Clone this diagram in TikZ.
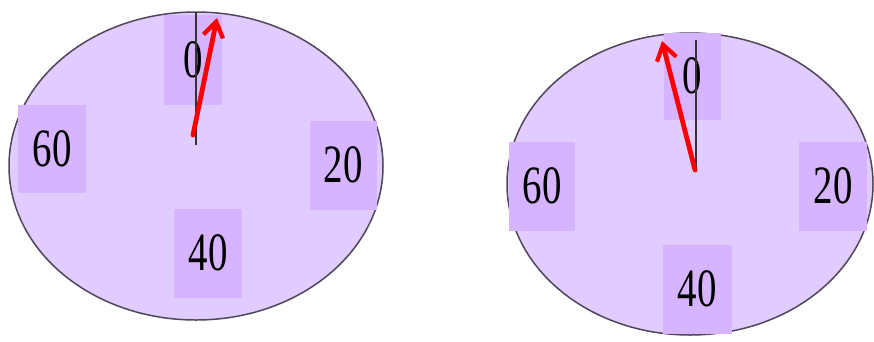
\documentclass[tikz,border=0pt]{standalone}
\usepackage{fontspec}
\setmainfont{Liberation Serif}
\usetikzlibrary{shapes.geometric,arrows.meta}
\definecolor{dialfill}{RGB}{224,204,255}
\definecolor{boxfill}{RGB}{214,180,255}
\definecolor{rimcol}{RGB}{80,70,90}
\definecolor{handred}{RGB}{250,0,0}
\tikzset{
  dial/.style={draw=rimcol, line width=1.5pt, fill=dialfill, ellipse, inner sep=0pt},
  numbox/.style={fill=boxfill, inner sep=0pt, font=\fontsize{54}{60}\selectfont},
  refline/.style={draw=black!80, line width=1.2pt},
  hand/.style={draw=handred, line width=4.8pt, -{Straight Barb[length=15pt,width=20pt,line width=4.2pt]}, line cap=round}
}
\newcommand{\digits}[1]{\scalebox{0.72}[1]{#1}}
\begin{document}
\begin{tikzpicture}[x=1pt,y=-1pt]
\useasboundingbox (0,0) rectangle (874,341);
% left dial
\node[dial, minimum width=374pt, minimum height=308pt] (Ld) at (196,166) {};
\node[numbox, minimum width=58pt, minimum height=90pt] (L0) at (193,60) {\digits{0}};
\node[numbox, minimum width=68pt, minimum height=88pt] (L60) at (52,149) {\digits{60}};
\node[numbox, minimum width=67pt, minimum height=89pt] (L20) at (343,165) {\digits{20}};
\node[numbox, minimum width=68pt, minimum height=89pt] (L40) at (208,253) {\digits{40}};
\coordinate (Lc) at (196,145);
\coordinate (Ltop) at (196,12);
\coordinate (Ls) at (193,135);
\coordinate (Le) at (217,18);
\draw[refline] (Lc) -- (Ltop);
\draw[hand] (Ls) -- (Le);
% right dial
\node[dial, minimum width=366pt, minimum height=302pt] (Rd) at (690,184) {};
\node[numbox, minimum width=57pt, minimum height=87pt] (R0) at (692,76) {\digits{0}};
\node[numbox, minimum width=66pt, minimum height=89pt] (R60) at (542,186) {\digits{60}};
\node[numbox, minimum width=68pt, minimum height=89pt] (R20) at (833,186) {\digits{20}};
\node[numbox, minimum width=69pt, minimum height=89pt] (R40) at (697,289) {\digits{40}};
\coordinate (Rc) at (696,172);
\coordinate (Rtop) at (696,40);
\coordinate (Rs) at (695,170);
\coordinate (Re) at (662,41);
\draw[refline] (Rc) -- (Rtop);
\draw[hand] (Rs) -- (Re);
\end{tikzpicture}
\end{document}
